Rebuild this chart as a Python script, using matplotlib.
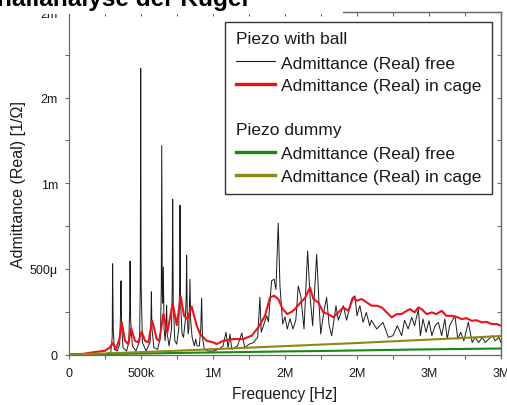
import matplotlib
matplotlib.use('Agg')
import matplotlib.pyplot as plt
import matplotlib.text as mtext
from matplotlib.legend_handler import HandlerBase
from matplotlib.patches import Rectangle

plt.rcParams['font.family'] = ['Liberation Sans', 'DejaVu Sans']

# ---------------- data (frequency in MHz, admittance in mS) ----------------
ball_free_f = [0.00, 0.10, 0.20, 0.26, 0.29, 0.300, 0.303, 0.307, 0.315, 0.335,
               0.352, 0.358, 0.361, 0.365, 0.375, 0.400, 0.415, 0.421, 0.424, 0.428,
               0.44, 0.465, 0.49, 0.495, 0.498, 0.501, 0.51, 0.535, 0.563, 0.569,
               0.572, 0.576, 0.59, 0.615, 0.635, 0.641, 0.644, 0.648, 0.651, 0.655,
               0.66, 0.668, 0.674, 0.678, 0.682, 0.695, 0.712, 0.717, 0.720, 0.724,
               0.735, 0.748, 0.762, 0.768, 0.771, 0.775, 0.785, 0.795, 0.808, 0.814,
               0.817, 0.821, 0.827, 0.833, 0.840, 0.845, 0.855, 0.87, 0.88, 0.89,
               0.905, 0.915, 0.921, 0.927, 0.94, 0.97, 1.00, 1.04, 1.07, 1.09,
               1.105, 1.118, 1.13, 1.17, 1.20, 1.22, 1.25, 1.28, 1.31, 1.326,
               1.335, 1.355, 1.373, 1.385, 1.407, 1.424, 1.437, 1.453, 1.465, 1.484,
               1.50, 1.516, 1.535, 1.555, 1.575, 1.592, 1.61, 1.632, 1.657, 1.674,
               1.692, 1.720, 1.736, 1.748, 1.77, 1.789, 1.807, 1.824, 1.84, 1.854,
               1.87, 1.89, 1.905, 1.928, 1.963, 1.986, 2.00, 2.02, 2.042, 2.065,
               2.088, 2.10, 2.137, 2.18, 2.218, 2.25, 2.28, 2.31, 2.33, 2.355,
               2.38, 2.40, 2.426, 2.44, 2.458, 2.48, 2.50, 2.52, 2.542, 2.565,
               2.588, 2.61, 2.627, 2.643, 2.68, 2.70, 2.72, 2.742, 2.773, 2.80,
               2.82, 2.845, 2.87, 2.89, 2.915, 2.94, 2.96, 2.985, 3.00]
ball_free_y = [0.000, 0.002, 0.004, 0.006, 0.012, 0.10, 0.53, 0.15, 0.03, 0.02,
               0.06, 0.25, 0.43, 0.18, 0.04, 0.02, 0.07, 0.25, 0.545, 0.20,
               0.05, 0.02, 0.08, 0.40, 1.67, 0.40, 0.07, 0.02, 0.07, 0.20,
               0.366, 0.15, 0.04, 0.03, 0.10, 0.40, 1.22, 0.35, 0.30, 0.51,
               0.15, 0.08, 0.18, 0.285, 0.12, 0.05, 0.15, 0.40, 0.907, 0.30,
               0.08, 0.06, 0.15, 0.40, 0.872, 0.30, 0.12, 0.10, 0.20, 0.35,
               0.58, 0.25, 0.12, 0.15, 0.44, 0.20, 0.10, 0.05, 0.09, 0.05,
               0.05, 0.15, 0.33, 0.10, 0.03, 0.02, 0.02, 0.03, 0.05, 0.13,
               0.04, 0.12, 0.03, 0.05, 0.125, 0.04, 0.06, 0.07, 0.10, 0.335,
               0.13, 0.18, 0.226, 0.19, 0.43, 0.44, 0.38, 0.767, 0.40, 0.178,
               0.22, 0.149, 0.21, 0.149, 0.20, 0.40, 0.34, 0.149, 0.605, 0.34,
               0.168, 0.586, 0.30, 0.12, 0.25, 0.333, 0.168, 0.11, 0.20, 0.285,
               0.20, 0.246, 0.285, 0.20, 0.324, 0.343, 0.226, 0.285, 0.188, 0.246,
               0.168, 0.20, 0.149, 0.188, 0.10, 0.11, 0.168, 0.11, 0.20, 0.149,
               0.217, 0.168, 0.265, 0.11, 0.207, 0.13, 0.197, 0.11, 0.168, 0.188,
               0.11, 0.207, 0.09, 0.168, 0.226, 0.09, 0.13, 0.08, 0.188, 0.07,
               0.10, 0.07, 0.10, 0.07, 0.09, 0.11, 0.08, 0.10, 0.07]

ball_cage_f = [0.00, 0.10, 0.169, 0.25, 0.285, 0.303, 0.326, 0.35, 0.366, 0.389,
               0.412, 0.431, 0.458, 0.481, 0.505, 0.528, 0.551, 0.578, 0.609, 0.627,
               0.655, 0.683, 0.72, 0.748, 0.776, 0.799, 0.822, 0.852, 0.887, 0.91,
               0.956, 1.002, 1.026, 1.072, 1.141, 1.21, 1.269, 1.315, 1.361, 1.396,
               1.424, 1.453, 1.484, 1.516, 1.547, 1.569, 1.604, 1.639, 1.674, 1.697,
               1.731, 1.766, 1.80, 1.836, 1.87, 1.905, 1.94, 1.974, 1.998, 2.033,
               2.067, 2.102, 2.137, 2.172, 2.206, 2.241, 2.276, 2.31, 2.345, 2.368,
               2.40, 2.426, 2.449, 2.484, 2.519, 2.55, 2.588, 2.62, 2.658, 2.69,
               2.727, 2.76, 2.797, 2.83, 2.866, 2.90, 2.935, 2.97, 3.00]
ball_cage_y = [0.000, 0.004, 0.013, 0.022, 0.042, 0.067, 0.032, 0.09, 0.188, 0.08,
               0.061, 0.153, 0.08, 0.071, 0.133, 0.08, 0.071, 0.197, 0.09, 0.08,
               0.236, 0.129, 0.298, 0.172, 0.337, 0.226, 0.207, 0.279, 0.168, 0.12,
               0.08, 0.071, 0.061, 0.08, 0.09, 0.09, 0.11, 0.159, 0.226, 0.333,
               0.343, 0.324, 0.265, 0.236, 0.25, 0.265, 0.30, 0.33, 0.392, 0.324,
               0.304, 0.246, 0.236, 0.217, 0.246, 0.275, 0.255, 0.333, 0.314, 0.324,
               0.304, 0.285, 0.285, 0.275, 0.246, 0.217, 0.236, 0.236, 0.255, 0.265,
               0.246, 0.275, 0.265, 0.236, 0.246, 0.236, 0.255, 0.226, 0.226, 0.22,
               0.207, 0.212, 0.197, 0.20, 0.188, 0.19, 0.178, 0.178, 0.168]

dummy_free_f = [0.0, 0.3, 0.6, 0.9, 1.2, 1.5, 1.8, 2.1, 2.4, 2.7, 3.0]
dummy_free_y = [0.0, 0.003, 0.007, 0.011, 0.014, 0.018, 0.021, 0.025, 0.029, 0.032, 0.035]

dummy_cage_f = [0.0, 0.25, 0.5, 0.75, 1.0, 1.25, 1.5, 1.75, 2.0, 2.25, 2.5, 2.75, 3.0]
dummy_cage_y = [0.0, 0.006, 0.014, 0.022, 0.031, 0.040, 0.049, 0.058, 0.067, 0.077, 0.087, 0.097, 0.108]

x_major = [0, 0.5e6, 1.0e6, 1.5e6, 2.0e6, 2.5e6, 3.0e6]
x_labels = ['0', '500k', '1M', '2M', '2M', '3M', '3M']
y_major = [0, 0.5e-3, 1.0e-3, 1.5e-3, 2.0e-3]
y_labels = ['0', '500\u03bc', '1m', '2m', '2m']

legend_groups = ['Piezo with ball', 'Piezo dummy']
series_labels = ['Admittance (Real) free', 'Admittance (Real) in cage',
                 'Admittance (Real) free', 'Admittance (Real) in cage']

# ---------------- figure ----------------
W, H = 507, 406
fig = plt.figure(figsize=(W / 100, H / 100), dpi=100)
ax = fig.add_axes([69 / W, (H - 355.5) / H, (501 - 69) / W, (355.5 - 13) / H])

to_hz = lambda f: [v * 1e6 for v in f]
to_s = lambda y: [v * 1e-3 for v in y]

l1, = ax.plot(to_hz(ball_free_f), to_s(ball_free_y), color='#1a1a1a', lw=0.7)
l2, = ax.plot(to_hz(ball_cage_f), to_s(ball_cage_y), color='#e8141c', lw=1.5)
l3, = ax.plot(to_hz(dummy_free_f), to_s(dummy_free_y), color='#168a16', lw=1.5)
l4, = ax.plot(to_hz(dummy_cage_f), to_s(dummy_cage_y), color='#8a8a10', lw=1.5)

ax.set_xlim(0, 3.0e6)
ax.set_ylim(0, 2.0e-3)

spine_c = '#6a6a6a'
for s in ax.spines.values():
    s.set_color(spine_c)
    s.set_linewidth(0.9)

ax.set_xticks(x_major)
ax.set_xticklabels(x_labels)
ax.set_xticks([v + 0.25e6 for v in x_major[:-1]], minor=True)
ax.set_yticks(y_major)
ax.set_yticklabels(y_labels)
ax.set_yticks([v + 0.25e-3 for v in y_major[:-1]], minor=True)
ax.tick_params(which='both', direction='out', length=3, width=0.8, color=spine_c,
               labelsize=9, labelcolor='#1a1a1a', top=False, right=False)
ax.tick_params(axis='x', which='major', pad=6)
ax.tick_params(axis='y', which='major', pad=5)

# inward ticks on top and right
secx = ax.secondary_xaxis('top')
secx.set_xticks(x_major + [v + 0.25e6 for v in x_major[:-1]])
secx.tick_params(direction='in', length=3, width=0.8, color=spine_c, labeltop=False)
secx.spines['top'].set_color(spine_c)
secx.spines['top'].set_linewidth(0.9)
secy = ax.secondary_yaxis('right')
secy.set_yticks(y_major + [v + 0.25e-3 for v in y_major[:-1]])
secy.tick_params(direction='in', length=3, width=0.8, color=spine_c, labelright=False)
secy.spines['right'].set_color(spine_c)
secy.spines['right'].set_linewidth(0.9)

ax.set_xlabel('Frequency [Hz]', fontsize=11.2, color='#1a1a1a', labelpad=5)
ax.set_ylabel('Admittance (Real) [1/\u03a9]', fontsize=11.5, color='#1a1a1a', labelpad=2.5)


# ---------------- legend with group headers ----------------
class Header:
    def __init__(self, text):
        self.text = text


class HeaderHandler(HandlerBase):
    def legend_artist(self, legend, orig_handle, fontsize, handlebox):
        t = mtext.Text(-handlebox.xdescent, -handlebox.ydescent + handlebox.height / 2,
                       orig_handle.text, va='center', ha='left',
                       fontproperties=legend.prop, color='#1a1a1a')
        handlebox.add_artist(t)
        return t


handles = [Header(legend_groups[0]), l1, l2, Header(''), Header(legend_groups[1]), l3, l4]
labels = [' ', series_labels[0], series_labels[1], ' ', ' ', series_labels[2], series_labels[3]]
leg = ax.legend(handles, labels, handler_map={Header: HeaderHandler()},
                loc='upper left', bbox_to_anchor=(225 / W, (H - 23) / H),
                bbox_transform=fig.transFigure, borderaxespad=0,
                fontsize=12.5, handlelength=2.25, handletextpad=0.35,
                labelspacing=0.43, borderpad=0.62, fancybox=False,
                framealpha=1, edgecolor='#333333')
leg.get_frame().set_linewidth(1.0)
for t in leg.get_texts():
    t.set_color('#1a1a1a')
for ln in leg.get_lines():
    if ln.get_color() != '#1a1a1a':
        ln.set_linewidth(2.4)
    else:
        ln.set_linewidth(0.8)

# ---------------- cut-off title band at top ----------------
fig.patches.append(Rectangle((0, (H - 15) / H), 343 / W, 15 / H, transform=fig.transFigure,
                             facecolor='white', edgecolor='none', zorder=10))
fig.text(248 / W, (H - 6) / H, 'Schallanalyse der Kugel', ha='right', va='baseline',
         fontsize=17.6, fontweight='bold', color='black', zorder=11)

fig.savefig('out.png', dpi=100)
